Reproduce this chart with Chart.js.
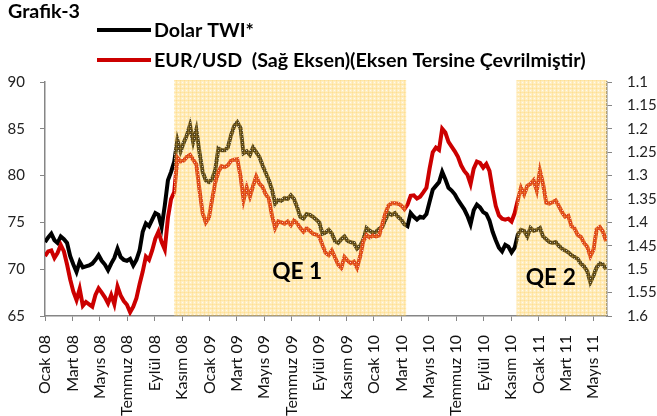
<!DOCTYPE html>
<html>
<head>
<meta charset="utf-8">
<script src="https://cdn.jsdelivr.net/npm/chart.js@4.4.0/dist/chart.umd.min.js"></script>
<style>
  html, body { margin: 0; padding: 0; background: #fff; }
</style>
</head>
<body>
<canvas id="grafik" width="657" height="416"></canvas>
<script>
// x ekseni etiketleri (iki ayda bir)
const ayEtiketleri = ['Ocak 08', 'Mart 08', 'Mayıs 08', 'Temmuz 08', 'Eylül 08', 'Kasım 08',
  'Ocak 09', 'Mart 09', 'Mayıs 09', 'Temmuz 09', 'Eylül 09', 'Kasım 09',
  'Ocak 10', 'Mart 10', 'Mayıs 10', 'Temmuz 10', 'Eylül 10', 'Kasım 10',
  'Ocak 11', 'Mart 11', 'Mayıs 11'];

const solEksenTikleri = [65, 70, 75, 80, 85, 90];
const sagEksenTikleri = [1.1, 1.15, 1.2, 1.25, 1.3, 1.35, 1.4, 1.45, 1.5, 1.55, 1.6];

// haftalık veriler, Ocak 2008'den itibaren
const dolarTWI = [
  72.9, 73.4, 73.8, 73.1, 72.8, 73.5, 73.2, 72.8, 71.4, 70.5,
  69.7, 70.8, 70.2, 70.3, 70.4, 70.6, 71.0, 71.5, 70.9, 70.5,
  69.9, 70.6, 71.2, 72.2, 71.3, 71.0, 70.9, 71.1, 70.4, 71.0,
  72.0, 74.0, 74.9, 74.6, 75.3, 76.0, 75.8, 74.5, 76.8, 79.5,
  80.4, 81.5, 83.8, 82.6, 83.5, 84.3, 85.4, 83.6, 84.9, 82.5,
  80.4, 79.5, 79.3, 79.6, 80.6, 82.9, 82.7, 82.7, 83.0, 84.3,
  85.3, 85.7, 85.1, 82.4, 82.6, 82.2, 83.0, 82.5, 82.0, 81.1,
  80.3, 79.5, 78.5, 77.0, 77.4, 77.3, 77.6, 77.5, 77.9, 77.5,
  76.6, 75.6, 75.4, 75.9, 75.8, 75.6, 75.3, 75.0, 73.8, 73.9,
  74.2, 73.8, 73.0, 72.8, 73.2, 73.5, 73.0, 72.9, 72.8, 72.2,
  72.5, 73.2, 74.4, 74.1, 73.9, 74.0, 74.3, 74.5, 75.3, 76.0,
  75.8, 76.0, 75.6, 75.3, 74.8, 74.6, 76.0, 75.6, 75.3, 75.6,
  75.5, 75.9, 77.2, 78.5, 78.9, 79.3, 80.4, 79.6, 78.7, 78.4,
  78.0, 77.4, 76.9, 76.4, 75.7, 74.8, 76.3, 76.9, 76.6, 76.1,
  75.9, 75.2, 74.0, 73.1, 72.3, 71.9, 72.6, 72.4, 71.8, 72.3,
  73.7, 74.2, 74.1, 73.5, 74.4, 74.1, 74.2, 74.4, 73.5, 73.2,
  72.9, 72.8, 72.9, 72.5, 72.2, 72.0, 71.8, 71.5, 71.3, 71.1,
  70.6, 70.3, 69.8, 68.6, 69.3, 70.2, 70.6, 70.5, 70.0
];

const eurUsd = [
  1.472, 1.462, 1.460, 1.476, 1.465, 1.448, 1.462, 1.490, 1.522, 1.548,
  1.566, 1.542, 1.578, 1.570, 1.575, 1.580, 1.555, 1.541, 1.550, 1.560,
  1.573, 1.555, 1.575, 1.537, 1.556, 1.568, 1.576, 1.592, 1.580, 1.562,
  1.532, 1.505, 1.473, 1.480, 1.460, 1.435, 1.420, 1.442, 1.458, 1.390,
  1.350, 1.335, 1.262, 1.270, 1.268, 1.260, 1.256, 1.266, 1.276, 1.330,
  1.380, 1.400, 1.390, 1.352, 1.315, 1.292, 1.280, 1.282, 1.278, 1.268,
  1.266, 1.265, 1.300, 1.352, 1.325, 1.345, 1.322, 1.302, 1.317, 1.324,
  1.340, 1.349, 1.385, 1.412, 1.398, 1.400, 1.403, 1.398, 1.406, 1.396,
  1.402, 1.412, 1.420, 1.413, 1.418, 1.424, 1.426, 1.430, 1.448, 1.465,
  1.470, 1.460, 1.475, 1.490, 1.497, 1.474, 1.482, 1.487, 1.484, 1.497,
  1.472, 1.440, 1.427, 1.432, 1.428, 1.430, 1.428, 1.404, 1.380, 1.364,
  1.359, 1.359, 1.360, 1.364, 1.372, 1.362, 1.343, 1.342, 1.349, 1.345,
  1.336, 1.326, 1.285, 1.250, 1.240, 1.245, 1.200, 1.208, 1.228, 1.238,
  1.248, 1.260, 1.278, 1.290, 1.298, 1.318, 1.285, 1.270, 1.273, 1.283,
  1.275, 1.290, 1.330, 1.365, 1.385, 1.392, 1.394, 1.392, 1.398, 1.380,
  1.352, 1.326, 1.340, 1.322, 1.318, 1.310, 1.332, 1.290, 1.318, 1.358,
  1.360, 1.357, 1.353, 1.365, 1.378, 1.388, 1.386, 1.408, 1.413, 1.427,
  1.431, 1.444, 1.452, 1.472, 1.458, 1.415, 1.410, 1.420, 1.440
];

// QE dönemleri (Ocak 08'den itibaren ay cinsinden)
const qeDonemleri = [
  { ad: 'QE 1', bas: 9.42, bit: 26.35 },
  { ad: 'QE 2', bas: 34.4, bit: 41 }
];

const haftaAy = 12 / 52.18; // bir hafta = kaç ay
const eksenRengi = '#868686';
const yaziTipi = 'Lato, "Open Sans", sans-serif';

function noktalar(seri) {
  return seri.map((v, i) => ({ x: i * haftaAy, y: v }));
}

// metni verilen genişliğe sığacak büyüklükte kalın yazar
function sigdirYaz(ctx, metin, x, y, genislik) {
  ctx.font = 'bold 20px ' + yaziTipi;
  const boyut = 20 * genislik / ctx.measureText(metin).width;
  ctx.font = 'bold ' + boyut.toFixed(1) + 'px ' + yaziTipi;
  ctx.fillText(metin, x, y);
}

function desenOlustur(ctx) {
  const c = document.createElement('canvas');
  c.width = 4; c.height = 4;
  const g = c.getContext('2d');
  g.fillStyle = 'rgba(255,205,80,0.34)';
  g.fillRect(0, 0, 4, 4);
  g.fillStyle = 'rgba(255,195,60,0.2)';
  g.fillRect(0, 0, 4, 1);
  g.fillRect(0, 0, 1, 4);
  g.fillStyle = 'rgba(255,255,255,0.75)';
  g.fillRect(2, 2, 1, 1);
  return ctx.createPattern(c, 'repeat');
}

// gölgeli QE alanları, etiketleri ve üstteki başlık/lejant
const ekler = {
  id: 'ekler',
  afterDatasetsDraw(chart) {
    const { ctx, chartArea, scales } = chart;
    ctx.save();
    ctx.fillStyle = desenOlustur(ctx);
    qeDonemleri.forEach(d => {
      const x1 = scales.x.getPixelForValue(d.bas);
      const x2 = scales.x.getPixelForValue(d.bit);
      ctx.fillRect(x1, chartArea.top - 2, x2 - x1, chartArea.bottom - chartArea.top + 2);
    });
    ctx.fillStyle = '#000';
    ctx.textAlign = 'center';
    ctx.textBaseline = 'middle';
    const konumlar = [[18.4, 69.7], [36.9, 69.05]];
    qeDonemleri.forEach((d, k) => {
      sigdirYaz(ctx, d.ad, scales.x.getPixelForValue(konumlar[k][0]), scales.y.getPixelForValue(konumlar[k][1]), 50);
    });
    ctx.restore();
  },
  afterDraw(chart) {
    const ctx = chart.ctx;
    ctx.save();
    ctx.fillStyle = '#000';
    ctx.textBaseline = 'alphabetic';
    sigdirYaz(ctx, 'Grafik-3', 8, 18, 72);
    ctx.textBaseline = 'middle';
    chart.data.datasets.forEach((ds, k) => {
      const y = 30 + k * 30;
      ctx.strokeStyle = ds.borderColor;
      ctx.lineWidth = 4;
      ctx.beginPath();
      ctx.moveTo(97, y);
      ctx.lineTo(151, y);
      ctx.stroke();
    });
    // iki satır aynı yazı boyutunda: uzun olana göre ayarla
    ctx.font = 'bold 20px ' + yaziTipi;
    const boyut = 20 * 431 / ctx.measureText(chart.data.datasets[1].label).width;
    ctx.font = 'bold ' + boyut.toFixed(1) + 'px ' + yaziTipi;
    chart.data.datasets.forEach((ds, k) => {
      ctx.fillText(ds.label, 154, 31 + k * 30);
    });
    ctx.restore();
  }
};

const eksenIzgara = { display: true, drawOnChartArea: false, drawTicks: true, tickLength: 5, color: eksenRengi };

new Chart(document.getElementById('grafik'), {
  type: 'line',
  data: {
    datasets: [
      {
        label: 'Dolar TWI*',
        data: noktalar(dolarTWI),
        borderColor: '#000000',
        borderWidth: 4,
        pointRadius: 0,
        yAxisID: 'y',
        order: 1
      },
      {
        label: 'EUR/USD  (Sağ Eksen)(Eksen Tersine Çevrilmiştir)',
        data: noktalar(eurUsd),
        borderColor: '#CC0000',
        borderWidth: 4,
        pointRadius: 0,
        yAxisID: 'y1',
        order: 0
      }
    ]
  },
  options: {
    responsive: false,
    animation: false,
    layout: { padding: { top: 82 } },
    plugins: {
      legend: { display: false },
      tooltip: { enabled: false }
    },
    scales: {
      x: {
        type: 'linear',
        min: 0,
        max: 41,
        grid: eksenIzgara,
        border: { color: eksenRengi, width: 1.5 },
        afterBuildTicks: s => { s.ticks = ayEtiketleri.map((_, k) => ({ value: k * 2 })); },
        afterFit: s => { s.height = 100; },
        ticks: {
          autoSkip: false,
          maxRotation: 90,
          minRotation: 90,
          padding: 14,
          color: '#111',
          font: { family: yaziTipi, size: 16 },
          callback: v => ayEtiketleri[Math.round(v / 2)]
        }
      },
      y: {
        position: 'left',
        min: 65,
        max: 90,
        grid: eksenIzgara,
        border: { color: eksenRengi, width: 1.5 },
        afterBuildTicks: s => { s.ticks = solEksenTikleri.map(v => ({ value: v })); },
        afterFit: s => { s.width = 45; },
        ticks: { padding: 15, color: '#222', font: { family: yaziTipi, size: 15 } }
      },
      y1: {
        position: 'right',
        reverse: true,
        min: 1.1,
        max: 1.6,
        grid: eksenIzgara,
        border: { color: eksenRengi, width: 1.5 },
        afterBuildTicks: s => { s.ticks = sagEksenTikleri.map(v => ({ value: v })); },
        afterFit: s => { s.width = 50; },
        ticks: {
          padding: 15,
          color: '#222',
          font: { family: yaziTipi, size: 15 },
          callback: v => String(+v.toFixed(2))
        }
      }
    }
  },
  plugins: [ekler]
});
</script>
</body>
</html>
